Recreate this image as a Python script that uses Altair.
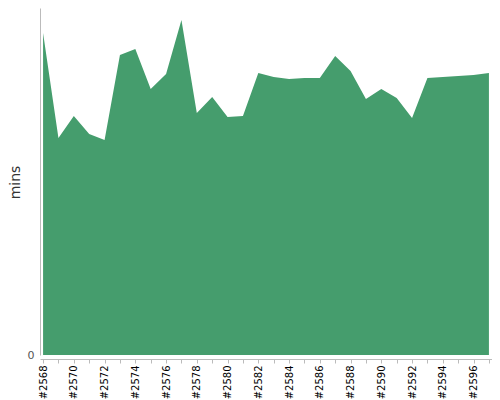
import altair as alt
import pandas as pd

builds = [f"#{n}" for n in range(2568, 2598)]
mins = [32.2, 21.7, 23.9, 22.1, 21.5, 30.0, 30.6, 26.6, 28.1, 33.5,
        24.2, 25.8, 23.8, 23.9, 28.2, 27.8, 27.6, 27.7, 27.7, 29.9,
        28.4, 25.6, 26.6, 25.7, 23.7, 27.7, 27.8, 27.9, 28.0, 28.2]

df = pd.DataFrame({"build": builds, "mins": mins})

chart = alt.Chart(df).mark_area(color="#459d6d", opacity=1).encode(
    x=alt.X("build:O", sort=builds,
            scale=alt.Scale(type="point", padding=0.2),
            axis=alt.Axis(title=None, labelAngle=-90, labelFont="DejaVu Sans",
                          labelFontSize=10, labelColor="#000", offset=4,
                          domainColor="#bbb", tickColor="#bbb", tickSize=4,
                          labelPadding=2,
                          labelExpr="parseInt(substring(datum.value,1)) % 2 == 0 ? datum.value : ''")),
    y=alt.Y("mins:Q", scale=alt.Scale(domain=[0, 34.7], nice=False, zero=True),
            axis=alt.Axis(title="mins", values=[0], grid=False, titleFont="DejaVu Sans",
                          titleFontSize=14, titleFontWeight="normal", titleColor="#333",
                          titleX=-25, titleY=174, titleAngle=270,
                          titleAlign="center", titleBaseline="middle",
                          labelFont="DejaVu Sans", labelFontSize=11, labelColor="#555",
                          domainColor="#bbb", tickSize=0, labelPadding=6)),
).properties(
    width=452, height=347,
    autosize=alt.AutoSizeParams(type="none"),
    padding={"left": 32, "top": 0, "right": 0, "bottom": 45},
).configure_view(stroke=None)

chart.save("out.html", embed_options={"renderer": "svg", "actions": False})
